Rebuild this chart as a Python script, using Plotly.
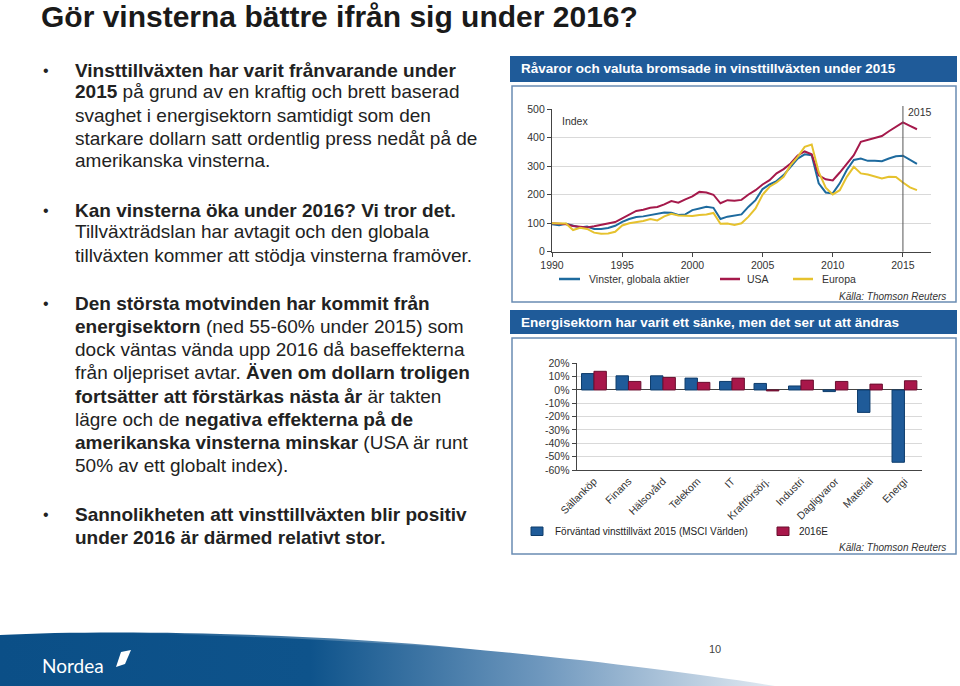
import base64
import plotly.graph_objects as go

W, H = 960, 686


def px(x):
    return x / W


def py(y):
    return 1 - y / H


# ---------------- data: line chart (Index) ----------------
years = [1990, 1990.5, 1991, 1991.5, 1992, 1992.5, 1993, 1993.5, 1994, 1994.5,
         1995, 1995.5, 1996, 1996.5, 1997, 1997.5, 1998, 1998.5, 1999, 1999.5,
         2000, 2000.5, 2001, 2001.5, 2002, 2002.5, 2003, 2003.5, 2004, 2004.5,
         2005, 2005.5, 2006, 2006.5, 2007, 2007.5, 2008, 2008.5, 2009, 2009.5,
         2010, 2010.5, 2011, 2011.5, 2012, 2012.5, 2013, 2013.5, 2014, 2014.5,
         2015, 2015.5, 2016]
global_idx = [96, 93, 98, 91, 85, 88, 80, 80, 83, 91,
              105, 115, 122, 124, 129, 134, 138, 137, 129, 131,
              146, 152, 158, 154, 115, 123, 126, 131, 158, 181,
              220, 236, 248, 269, 298, 327, 342, 339, 240, 208,
              205, 240, 287, 322, 327, 319, 319, 318, 327, 335,
              337, 322, 308]
usa_idx = [100, 99, 96, 90, 87, 85, 89, 94, 101, 104,
           117, 129, 143, 147, 154, 157, 166, 178, 172, 184,
           194, 210, 208, 200, 170, 181, 179, 182, 201, 216,
           236, 251, 275, 290, 310, 338, 352, 342, 268, 254,
           250, 278, 310, 339, 386, 392, 398, 406, 423, 439,
           454, 442, 430]
europe_idx = [100, 99, 99, 76, 84, 80, 67, 63, 64, 70,
              92, 100, 104, 108, 115, 110, 124, 133, 127, 125,
              125, 129, 131, 136, 98, 99, 94, 100, 123, 152,
              200, 228, 243, 263, 304, 333, 368, 376, 280, 225,
              201, 216, 263, 298, 275, 271, 263, 257, 263, 262,
              243, 226, 216]
line_names = ["Vinster, globala aktier", "USA", "Europa"]
year_ticks = [1990, 1995, 2000, 2005, 2010, 2015]
index_ticks = [0, 100, 200, 300, 400, 500]

# ---------------- data: bar chart ----------------
sectors = ["Sällanköp", "Finans", "Hälsovård", "Telekom", "IT", "Kraftförsörj.",
           "Industri", "Dagligvaror", "Material", "Energi"]
growth_2015 = [12.3, 10.6, 10.6, 8.9, 6.4, 4.9, 3.0, -1.2, -16.8, -54.2]
growth_2016 = [14.0, 6.4, 9.4, 5.7, 8.9, -0.7, 7.4, 6.4, 4.4, 6.9]
bar_names = ["Förväntad vinsttillväxt 2015 (MSCI Världen)", "2016E"]
pct_vals = [-60, -50, -40, -30, -20, -10, 0, 10, 20]
pct_text = ["-60%", "-50%", "-40%", "-30%", "-20%", "-10%", "0%", "10%", "20%"]

# ---------------- styles ----------------
FONT = "Liberation Sans, Arial, sans-serif"
TXT = "#222222"
HEAD_BLUE = "#1f5b99"
BORDER = "#6a8cb3"
C_GLOBAL = "#1d6a9e"
C_USA = "#a5194b"
C_EUR = "#e6c22e"
C_BAR15 = "#1f5b99"
C_BAR16 = "#a8174a"

fig = go.Figure()

for vals, name, col in [(global_idx, line_names[0], C_GLOBAL),
                        (usa_idx, line_names[1], C_USA),
                        (europe_idx, line_names[2], C_EUR)]:
    fig.add_trace(go.Scatter(x=years, y=vals, name=name, mode="lines",
                             line=dict(color=col, width=2),
                             xaxis="x", yaxis="y", showlegend=False))

fig.add_trace(go.Bar(x=sectors, y=growth_2015, name=bar_names[0],
                     marker=dict(color=C_BAR15, line=dict(color="#0e3c6b", width=1)),
                     xaxis="x2", yaxis="y2", showlegend=False))
fig.add_trace(go.Bar(x=sectors, y=growth_2016, name=bar_names[1],
                     marker=dict(color=C_BAR16, line=dict(color="#6a0f2f", width=1)),
                     xaxis="x2", yaxis="y2", showlegend=False))

tickfont = dict(family=FONT, size=10.5, color="#333333")

fig.update_layout(
    width=W, height=H,
    margin=dict(l=0, r=0, t=0, b=0, pad=0, autoexpand=False),
    paper_bgcolor="white", plot_bgcolor="rgba(0,0,0,0)",
    showlegend=False,
    barmode="group", bargap=0.28, bargroupgap=0,
    xaxis=dict(domain=[px(552), px(931)], range=[1990, 2017], anchor="y",
               automargin=False,
               tickvals=year_ticks, ticks="outside", ticklen=4, tickcolor="#444",
               showline=True, linecolor="#444", linewidth=1.2, showgrid=False,
               zeroline=False, tickfont=tickfont),
    yaxis=dict(domain=[py(251.7), py(109.3)], range=[0, 500], anchor="x",
               automargin=False,
               tickvals=index_ticks, ticks="outside", ticklen=4, tickcolor="#444",
               showline=True, linecolor="#444", linewidth=1.2,
               showgrid=True, gridcolor="#d9d9d9", gridwidth=1,
               zeroline=False, tickfont=tickfont),
    xaxis2=dict(domain=[px(576.7), px(921.7)], anchor="y2", tickangle=-45,
                automargin=False,
                showline=True, linecolor="#444", linewidth=1.2, ticks="",
                showgrid=False, tickfont=dict(family=FONT, size=10.5, color="#333333")),
    yaxis2=dict(domain=[py(470), py(363.3)], range=[-60, 20], anchor="x2",
                automargin=False,
                tickvals=pct_vals, ticktext=pct_text, ticks="outside", ticklen=4,
                tickcolor="#444", showline=True, linecolor="#444", linewidth=1.2,
                showgrid=True, gridcolor="#d9d9d9", zeroline=True,
                zerolinecolor="#444", zerolinewidth=1.2, tickfont=tickfont),
)

shapes = []
annots = []

# panel headers and boxes
for (hy0, hy1, by0, by1) in [(56, 82, 86, 302), (310, 334, 338, 554)]:
    shapes.append(dict(type="rect", xref="paper", yref="paper", x0=px(510), x1=px(957),
                       y0=py(hy1), y1=py(hy0), fillcolor=HEAD_BLUE, line=dict(width=0),
                       layer="below"))
    shapes.append(dict(type="rect", xref="paper", yref="paper", x0=px(512), x1=px(956),
                       y0=py(by1), y1=py(by0), fillcolor="rgba(0,0,0,0)",
                       line=dict(color=BORDER, width=1.5), layer="below"))

annots.append(dict(text="<b>Råvaror och valuta bromsade in vinsttillväxten under 2015</b>",
                   x=px(519), y=py(69), xref="paper", yref="paper", xanchor="left",
                   yanchor="middle", showarrow=False,
                   font=dict(family=FONT, size=13.5, color="white")))
annots.append(dict(text="<b>Energisektorn har varit ett sänke, men det ser ut att ändras</b>",
                   x=px(519), y=py(322), xref="paper", yref="paper", xanchor="left",
                   yanchor="middle", showarrow=False,
                   font=dict(family=FONT, size=13.5, color="white")))

# 2015 marker line in line chart
shapes.append(dict(type="line", xref="x", yref="paper", x0=2015, x1=2015,
                   y0=py(251.7), y1=py(106), line=dict(color="#555", width=1)))
annots.append(dict(text="2015", x=px(906), y=py(112), xref="paper", yref="paper",
                   xanchor="left", yanchor="middle", showarrow=False,
                   font=dict(family=FONT, size=10.5, color="#333")))
annots.append(dict(text="Index", x=px(560), y=py(121), xref="paper", yref="paper",
                   xanchor="left", yanchor="middle", showarrow=False,
                   font=dict(family=FONT, size=10.5, color="#333")))

# line chart legend (manual)
for (x0, x1, tx, name, col) in [(559, 580, 587, line_names[0], C_GLOBAL),
                                (720, 740, 745, line_names[1], C_USA),
                                (793, 813, 820, line_names[2], C_EUR)]:
    shapes.append(dict(type="line", xref="paper", yref="paper", x0=px(x0), x1=px(x1),
                       y0=py(279), y1=py(279), line=dict(color=col, width=2.5)))
    annots.append(dict(text=name, x=px(tx), y=py(279), xref="paper", yref="paper",
                       xanchor="left", yanchor="middle", showarrow=False,
                       font=dict(family=FONT, size=10.5, color="#333")))

# bar chart legend (manual)
for (x0, x1, tx, name, col, lc) in [(531, 543, 553, bar_names[0], C_BAR15, "#0e3c6b"),
                                    (777, 789, 797, bar_names[1], C_BAR16, "#6a0f2f")]:
    shapes.append(dict(type="rect", xref="paper", yref="paper", x0=px(x0), x1=px(x1),
                       y0=py(535.5), y1=py(527), fillcolor=col, line=dict(color=lc, width=1)))
    annots.append(dict(text=name, x=px(tx), y=py(531), xref="paper", yref="paper",
                       xanchor="left", yanchor="middle", showarrow=False,
                       font=dict(family=FONT, size=10, color="#222")))

for yy in [296, 547]:
    annots.append(dict(text="<i>Källa: Thomson Reuters</i>", x=px(948), y=py(yy),
                       xref="paper", yref="paper", xanchor="right", yanchor="middle",
                       showarrow=False, font=dict(family=FONT, size=10, color="#333")))

# title
annots.append(dict(text="<b>Gör vinsterna bättre ifrån sig under 2016?</b>", x=px(39), y=py(16),
                   xref="paper", yref="paper", xanchor="left", yanchor="middle",
                   showarrow=False, font=dict(family=FONT, size=30, color="#1a1a1a")))

# bullet text
lines = [
    (70, True, "<b>Vinsttillväxten har varit frånvarande under</b>"),
    (92, False, "<b>2015</b> på grund av en kraftig och brett baserad"),
    (115, False, "svaghet i energisektorn samtidigt som den"),
    (138, False, "starkare dollarn satt ordentlig press nedåt på de"),
    (160, False, "amerikanska vinsterna."),
    (210, True, "<b>Kan vinsterna öka under 2016? Vi tror det.</b>"),
    (232, False, "Tillväxträdslan har avtagit och den globala"),
    (255, False, "tillväxten kommer att stödja vinsterna framöver."),
    (303, True, "<b>Den största motvinden har kommit från</b>"),
    (326, False, "<b>energisektorn</b> (ned 55-60% under 2015) som"),
    (349, False, "dock väntas vända upp 2016 då baseffekterna"),
    (372, False, "från oljepriset avtar. <b>Även om dollarn troligen</b>"),
    (396, False, "<b>fortsätter att förstärkas nästa år</b> är takten"),
    (419, False, "lägre och de <b>negativa effekterna på de</b>"),
    (442, False, "<b>amerikanska vinsterna minskar</b> (USA är runt"),
    (465, False, "50% av ett globalt index)."),
    (514, True, "<b>Sannolikheten att vinsttillväxten blir positiv</b>"),
    (537, False, "<b>under 2016 är därmed relativt stor.</b>"),
]
for (yy, bullet, txt) in lines:
    annots.append(dict(text=txt, x=px(73), y=py(yy), xref="paper", yref="paper",
                       xanchor="left", yanchor="middle", showarrow=False,
                       font=dict(family=FONT, size=19, color=TXT)))
    if bullet:
        annots.append(dict(text="•", x=px(41), y=py(yy), xref="paper", yref="paper",
                           xanchor="left", yanchor="middle", showarrow=False,
                           font=dict(family=FONT, size=16, color=TXT)))

# footer band (decorative gradient wave)
svg = """<svg xmlns="http://www.w3.org/2000/svg" width="960" height="686" viewBox="0 0 960 686" preserveAspectRatio="none">
<defs><linearGradient id="g" x1="0" y1="0" x2="1" y2="0">
<stop offset="0" stop-color="#0b4f87"/><stop offset="0.40" stop-color="#0e538b"/>
<stop offset="0.70" stop-color="#6f98be"/><stop offset="1" stop-color="#e2eaf2"/></linearGradient>
<linearGradient id="h" x1="0" y1="0" x2="1" y2="0">
<stop offset="0" stop-color="#ffffff" stop-opacity="0"/><stop offset="0.4" stop-color="#ffffff" stop-opacity="0.25"/>
<stop offset="1" stop-color="#ffffff" stop-opacity="0"/></linearGradient></defs>
<path d="M0,686 L0,635 C120,629 320,634 460,648 C590,660 700,674 775,686 Z" fill="url(#g)"/>
<path d="M120,633 C300,633 420,640 600,658 C420,645 300,637 120,633 Z" fill="url(#h)"/>
</svg>"""
b64 = base64.b64encode(svg.encode("utf-8")).decode("ascii")
fig.add_layout_image(dict(source="data:image/svg+xml;base64," + b64, xref="paper", yref="paper",
                          x=0, y=1, sizex=1, sizey=1, xanchor="left", yanchor="top",
                          sizing="stretch", layer="below"))

annots.append(dict(text="Nordea", x=px(40), y=py(665), xref="paper", yref="paper",
                   xanchor="left", yanchor="middle", showarrow=False,
                   font=dict(family="Lato, Liberation Sans, sans-serif", size=19, color="white")))
# sail logo
sail = "M {} {} L {} {} L {} {} L {} {} Z".format(px(116), py(667), px(121), py(652),
                                                  px(131), py(650), px(125), py(664))
shapes.append(dict(type="path", xref="paper", yref="paper", path=sail,
                   fillcolor="white", line=dict(width=0)))
annots.append(dict(text="10", x=px(715), y=py(649), xref="paper", yref="paper",
                   xanchor="center", yanchor="middle", showarrow=False,
                   font=dict(family=FONT, size=11, color="#444")))

fig.update_layout(shapes=shapes, annotations=annots)
fig.write_html("out.html",
               config={"displayModeBar": False},
               post_script="document.body.style.margin='0px';document.body.style.overflow='hidden';")
